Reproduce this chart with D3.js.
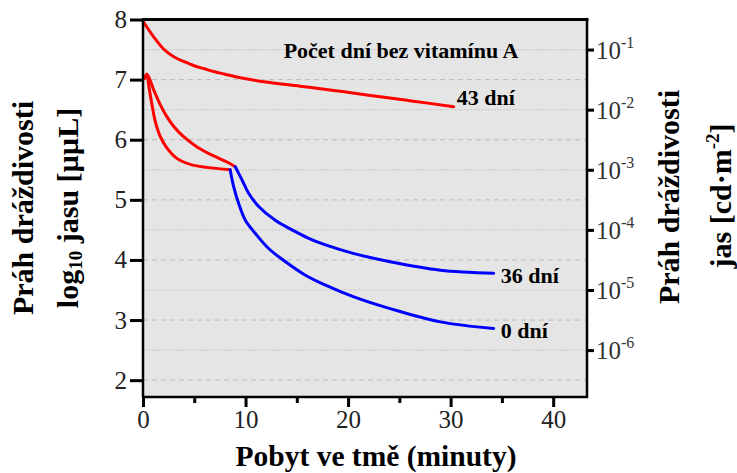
<!DOCTYPE html>
<html>
<head>
<meta charset="utf-8">
<script src="https://cdn.jsdelivr.net/npm/d3@7"></script>
<style>
  html, body { margin: 0; padding: 0; background: #fff; }
  svg { display: block; }
</style>
</head>
<body>
<svg id="chart" width="737" height="473"></svg>
<script>
// Dark adaptation curves: threshold (log10 µµL) versus minutes in darkness.
// 43 days without vitamin A: cone phase only.
const minutes43 = [0, 1, 2, 3, 4, 5, 6, 7, 8, 9.5, 12, 15.3, 18.6, 22, 26, 30.3];
const threshold43 = [7.97, 7.72, 7.51, 7.38, 7.3, 7.23, 7.18, 7.13, 7.09, 7.03, 6.96, 6.89, 6.82, 6.74, 6.65, 6.55];

// 36 days: cone branch (red) then rod branch (blue)
const minutes36Cone = [0.15, 0.39, 1.04, 1.69, 2.34, 3.0, 3.96, 5.27, 6.89, 8.2, 9.0];
const threshold36Cone = [7.02, 7.09, 6.83, 6.58, 6.38, 6.22, 6.05, 5.88, 5.73, 5.63, 5.55];
const minutes36Rod = [9.0, 9.66, 10.3, 11.28, 12.9, 14.54, 16.16, 17.8, 20.5, 24.1, 29.0, 34.2];
const threshold36Rod = [5.55, 5.33, 5.11, 4.89, 4.66, 4.5, 4.36, 4.25, 4.11, 3.97, 3.83, 3.78];

// 0 days: cone branch (red) then rod branch (blue)
const minutes0Cone = [0.15, 0.39, 0.55, 0.88, 1.2, 1.69, 2.34, 3.3, 4.6, 6.24, 8.5];
const threshold0Cone = [7.02, 7.09, 6.91, 6.58, 6.3, 6.05, 5.86, 5.69, 5.59, 5.54, 5.5];
const minutes0Rod = [8.5, 8.84, 9.33, 9.98, 10.96, 12.25, 13.9, 15.8, 17.8, 20.5, 24.1, 29.0, 34.2];
const threshold0Rod = [5.5, 5.22, 4.94, 4.66, 4.44, 4.19, 3.97, 3.75, 3.58, 3.39, 3.19, 2.97, 2.86];

// Axis ticks
const xMajorTicks = [0, 10, 20, 30, 40];
const xMinorTicks = [5, 15, 25, 35];
const yTicks = [2, 3, 4, 5, 6, 7, 8];
const yHalfTicks = [2.5, 3.5, 4.5, 5.5, 6.5, 7.5];
const rightExponents = ["-6", "-5", "-4", "-3", "-2", "-1"];

// Curve end labels
const endLabels = ["43 dní", "36 dní", "0 dní"];
const annotation = "Počet dní bez vitamínu A";

const FONT = "'Liberation Serif', 'DejaVu Serif', 'Noto Serif', serif";
const svg = d3.select("#chart").attr("font-family", FONT);
const plotLeft = 143, plotTop = 19.5, plotRight = 587, plotBottom = 397;

const x = d3.scaleLinear().domain([0, 43.3]).range([plotLeft, plotRight]);
const y = d3.scaleLinear().domain([1.72, 8]).range([plotBottom, plotTop]);

// Plot background
svg.append("rect")
  .attr("x", plotLeft).attr("y", plotTop)
  .attr("width", plotRight - plotLeft).attr("height", plotBottom - plotTop)
  .attr("fill", "#e5e5e5");

// Grid: dashed at whole units, dotted at half units
svg.append("g").selectAll("line").data(yTicks.filter(d => d < 8)).join("line")
  .attr("x1", plotLeft).attr("x2", plotRight)
  .attr("y1", d => y(d)).attr("y2", d => y(d))
  .attr("stroke", "#bcbcbc").attr("stroke-width", 1)
  .attr("stroke-dasharray", "5,4");
svg.append("g").selectAll("line").data(yHalfTicks).join("line")
  .attr("x1", plotLeft).attr("x2", plotRight)
  .attr("y1", d => y(d)).attr("y2", d => y(d))
  .attr("stroke", "#c6c6c6").attr("stroke-width", 1.2)
  .attr("stroke-dasharray", "1.5,1.5");

// Curves
const line = d3.line().x(d => x(d[0])).y(d => y(d[1])).curve(d3.curveCatmullRom.alpha(0.5));
const curves = [
  { t: minutes43, v: threshold43, color: "#ff0000" },
  { t: minutes36Cone, v: threshold36Cone, color: "#ff0000" },
  { t: minutes0Cone, v: threshold0Cone, color: "#ff0000" },
  { t: minutes36Rod, v: threshold36Rod, color: "#0000ff" },
  { t: minutes0Rod, v: threshold0Rod, color: "#0000ff" }
];
svg.append("g").selectAll("path").data(curves).join("path")
  .attr("d", c => line(d3.zip(c.t, c.v)))
  .attr("fill", "none")
  .attr("stroke", c => c.color)
  .attr("stroke-width", 3)
  .attr("stroke-linecap", "round")
  .attr("stroke-linejoin", "round");

// Frame
const frame = svg.append("g").attr("stroke", "#000").attr("fill", "none");
frame.append("line").attr("x1", plotLeft - 1).attr("x2", plotRight + 1.5).attr("y1", plotTop).attr("y2", plotTop).attr("stroke-width", 3);
frame.append("line").attr("x1", plotRight).attr("x2", plotRight).attr("y1", plotTop).attr("y2", plotBottom + 1).attr("stroke-width", 2.5);
frame.append("line").attr("x1", plotLeft).attr("x2", plotRight + 1).attr("y1", plotBottom).attr("y2", plotBottom).attr("stroke-width", 2.5);
frame.append("line").attr("x1", plotLeft).attr("x2", plotLeft).attr("y1", plotTop).attr("y2", plotBottom).attr("stroke-width", 2.5);

// Left axis
const yAxis = d3.axisLeft(y).tickValues(yTicks).tickSize(13).tickPadding(3).tickFormat(d3.format("d"));
const gy = svg.append("g").attr("transform", `translate(${plotLeft},0)`).call(yAxis);
gy.attr("font-family", FONT);
gy.select(".domain").remove();
gy.selectAll(".tick line").attr("stroke-width", 3);
gy.selectAll(".tick text").attr("font-size", 25).attr("fill", "#222");

// Bottom axis: major and minor ticks
const xAxis = d3.axisBottom(x).tickValues(xMajorTicks).tickSize(10).tickPadding(3).tickFormat(d3.format("d"));
const gx = svg.append("g").attr("transform", `translate(0,${plotBottom})`).call(xAxis);
gx.attr("font-family", FONT);
gx.select(".domain").remove();
gx.selectAll(".tick line").attr("stroke-width", 3);
gx.selectAll(".tick text").attr("font-size", 25).attr("fill", "#222");
const xMinor = d3.axisBottom(x).tickValues(xMinorTicks).tickSize(6).tickFormat("");
const gxm = svg.append("g").attr("transform", `translate(0,${plotBottom})`).call(xMinor);
gxm.select(".domain").remove();
gxm.selectAll(".tick line").attr("stroke-width", 3);

// Right axis: luminance in cd·m^-2 (log10 µµL − 8.5)
const yRight = d3.axisRight(y).tickValues(yHalfTicks).tickSize(7).tickFormat("");
const gr = svg.append("g").attr("transform", `translate(${plotRight},0)`).call(yRight);
gr.select(".domain").remove();
gr.selectAll(".tick line").attr("stroke-width", 3);
const rl = svg.append("g").selectAll("text").data(yHalfTicks).join("text")
  .attr("x", plotRight + 9)
  .attr("y", d => y(d) + 9)
  .attr("font-size", 25)
  .attr("fill", "#333");
rl.append("tspan").text("10");
rl.append("tspan").attr("font-size", 16).attr("dy", -11).text((d, i) => rightExponents[i]);

// Axis titles
svg.append("text")
  .attr("transform", "translate(376,466)")
  .attr("text-anchor", "middle")
  .attr("font-size", 29.5).attr("font-weight", "bold")
  .text("Pobyt ve tmě (minuty)");

svg.append("text")
  .attr("transform", "translate(33,208) rotate(-90)")
  .attr("text-anchor", "middle")
  .attr("font-size", 30).attr("font-weight", "bold")
  .text("Práh dráždivosti");

const lt = svg.append("text")
  .attr("transform", "translate(78,208) rotate(-90)")
  .attr("text-anchor", "middle")
  .attr("font-size", 30).attr("font-weight", "bold");
lt.append("tspan").text("log");
lt.append("tspan").attr("font-size", 19).attr("dy", 4).text("10");
lt.append("tspan").attr("dy", -4).text(" jasu [µµL]");

svg.append("text")
  .attr("transform", "translate(679,197) rotate(-90)")
  .attr("text-anchor", "middle")
  .attr("font-size", 30).attr("font-weight", "bold")
  .text("Práh dráždivosti");

const rt = svg.append("text")
  .attr("transform", "translate(731,196) rotate(-90)")
  .attr("text-anchor", "middle")
  .attr("font-size", 30).attr("font-weight", "bold");
rt.append("tspan").text("jas [cd·m");
rt.append("tspan").attr("font-size", 19).attr("dy", -12).text("-2");
rt.append("tspan").attr("dy", 12).text("]");

// Annotation and curve labels
svg.append("text")
  .attr("x", 401).attr("y", 58)
  .attr("text-anchor", "middle")
  .attr("font-size", 22).attr("font-weight", "bold")
  .text(annotation);

const labelData = [
  { text: endLabels[0], t: minutes43[minutes43.length - 1], v: threshold43[threshold43.length - 1], dx: 3, dy: -2 },
  { text: endLabels[1], t: minutes36Rod[minutes36Rod.length - 1], v: threshold36Rod[threshold36Rod.length - 1], dx: 7, dy: 10 },
  { text: endLabels[2], t: minutes0Rod[minutes0Rod.length - 1], v: threshold0Rod[threshold0Rod.length - 1], dx: 7, dy: 10 }
];
svg.append("g").selectAll("text").data(labelData).join("text")
  .attr("x", d => x(d.t) + d.dx)
  .attr("y", d => y(d.v) + d.dy)
  .attr("font-size", 22).attr("font-weight", "bold")
  .text(d => d.text);
</script>
</body>
</html>
